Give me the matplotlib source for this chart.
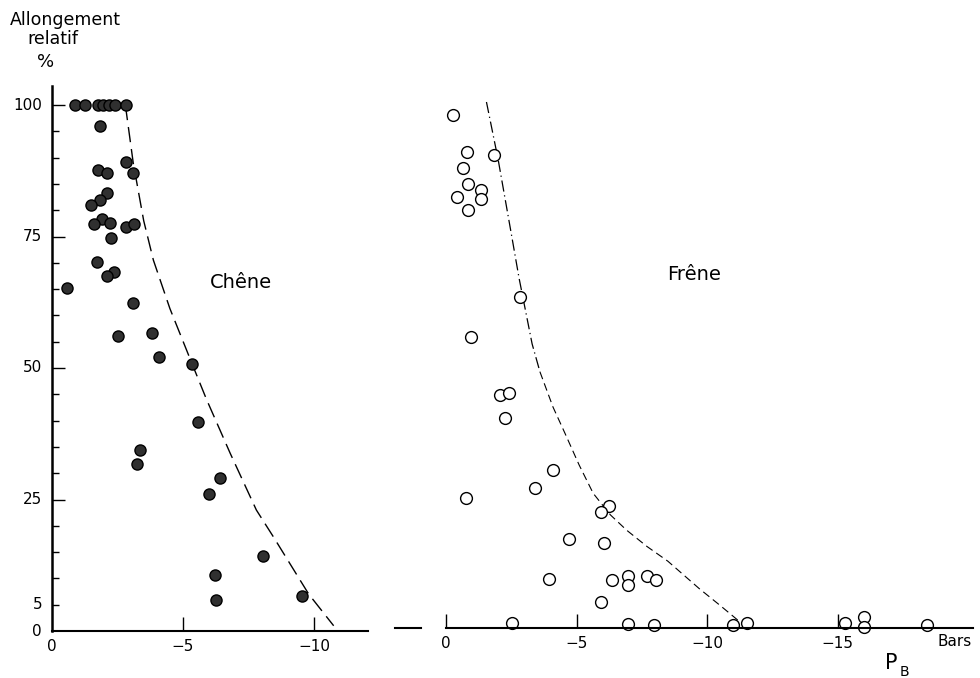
import matplotlib
matplotlib.use('Agg')
import matplotlib.pyplot as plt
from matplotlib.lines import Line2D

# Chêne (oak) - filled circles
chene_p = [-0.88, -1.26, -1.76, -1.95, -2.18, -2.4, -2.82,
           -1.83, -2.81, -1.77, -2.09, -3.10, -2.09, -1.83, -1.48,
           -1.90, -1.60, -2.21, -2.82, -3.14, -2.24, -1.71, -2.37,
           -2.09, -0.58, -3.10, -2.53, -3.83, -4.10, -5.33, -5.56,
           -3.36, -3.23, -6.41, -6.0, -8.04, -6.21, -6.26, -9.54]
chene_al = [100, 100, 100, 100, 100, 100, 100,
            96.1, 89.2, 87.6, 87.1, 87.1, 83.2, 81.9, 80.9,
            78.4, 77.3, 77.5, 76.9, 77.3, 74.8, 70.2, 68.3,
            67.4, 65.3, 62.3, 56.1, 56.7, 52.1, 50.8, 39.7,
            34.4, 31.7, 29.0, 26.0, 14.3, 10.6, 5.8, 6.7]

# Frêne (ash) - open circles
frene_p = [-0.26, -0.79, -1.84, -0.64, -0.83, -1.33, -0.43, -1.33, -0.84,
           -2.84, -0.97, -2.07, -2.43, -2.26, -4.09, -3.41, -0.77, -6.25,
           -5.95, -4.71, -6.05, -3.96, -6.36, -6.98, -6.98, -7.69, -8.03,
           -5.95, -2.52, -6.98, -7.98, -11.0, -11.52, -15.29, -16.0, -16.0,
           -18.42]
frene_al = [97.5, 90.4, 89.9, 87.5, 84.4, 83.3, 81.9, 81.6, 79.5,
            62.9, 55.4, 44.3, 44.6, 39.9, 30.0, 26.7, 24.8, 23.2,
            22.0, 16.9, 16.2, 9.3, 9.1, 9.8, 8.2, 9.8, 9.1,
            4.9, 1.0, 0.8, 0.6, 0.5, 1.0, 1.0, 2.0, 0.2,
            0.5]

# envelope curves (dashed)
chene_env_p = [-2.8, -3.1, -3.5, -3.87, -4.5, -5.33, -5.9, -6.8, -7.8, -8.45, -9.8, -10.75]
chene_env_al = [100, 89, 78, 70.5, 61.3, 51, 44, 33.8, 23, 17.9, 7, 1]
frene_env_p = [-1.55, -2.0, -2.5, -2.8, -3.3, -3.6, -4.1, -4.56, -5.1, -5.64,
               -6.3, -6.92, -7.7, -8.5, -9.7, -10.5, -11.3]
frene_env_al = [100, 89, 75, 66.5, 54, 48.7, 42, 37, 31, 25.6,
                21.5, 18.6, 15.5, 12.7, 7.5, 4.3, 1]

y_labels = [0, 5, 25, 50, 75, 100]
x_left_ticks = [0, -5, -10]
x_right_ticks = [0, -5, -10, -15]

W, H = 980, 678
plt.rcParams['font.family'] = ['DejaVu Sans']
fig = plt.figure(figsize=(9.8, 6.78), dpi=100)

px_x = 26.2
px_y = 5.26
top = 86

# left panel (pixel positions)
l_left, l_right, l_base = 52, 368, 631
ax1 = fig.add_axes([l_left / W, (H - l_base) / H, (l_right - l_left) / W, (l_base - top) / H])
ax1.set_xlim(0, -(l_right - l_left) / px_x)
ax1.set_ylim(0, (l_base - top) / px_y)

# right panel
r_left, r_right, r_base = 446, 973, 628
ax2 = fig.add_axes([r_left / W, (H - r_base) / H, (r_right - r_left) / W, (r_base - top) / H])
ax2.set_xlim(0, -(r_right - r_left) / 26.1)
ax2.set_ylim(0, (r_base - top) / px_y)

def minus_fmt(t):
    return '0' if t == 0 else '\u2212' + str(-t)

for ax in (ax1, ax2):
    ax.patch.set_alpha(0)
    ax.spines['top'].set_visible(False)
    ax.spines['right'].set_visible(False)
    ax.spines['bottom'].set_linewidth(1.5)
    ax.tick_params(axis='x', direction='in', length=10, width=1, pad=6, labelsize=11)

ax1.spines['left'].set_linewidth(1.8)
ax2.spines['left'].set_visible(False)
ax2.set_yticks([])

ax1.set_xticks(x_left_ticks)
ax1.set_xticklabels([minus_fmt(t) for t in x_left_ticks])
ax1.get_xticklines()[0].set_visible(False)
ax2.set_xticks(x_right_ticks)
ax2.set_xticklabels([minus_fmt(t) for t in x_right_ticks])

ax1.set_yticks([25, 50, 75, 100])
ax1.set_yticks(list(range(5, 101, 5)), minor=True)
ax1.yaxis.set_major_formatter(plt.NullFormatter())
ax1.tick_params(axis='y', which='major', direction='in', length=9, width=1)
ax1.tick_params(axis='y', which='minor', direction='in', length=5, width=1)

# y labels placed a few pixels left of the axis
for v in y_labels:
    fig.text(42 / W, (H - l_base + v * px_y) / H, str(v), ha='right', va='center', fontsize=11)

# envelopes
ax1.plot(chene_env_p, chene_env_al, color='black', lw=1.0, dashes=(11, 5))
ax2.plot(frene_env_p[:6], frene_env_al[:6], color='black', lw=0.9, dashes=(9, 3, 1, 3))
ax2.plot(frene_env_p[5:], frene_env_al[5:], color='black', lw=0.8, dashes=(7, 4))

# points
ax1.plot(chene_p, chene_al, 'o', ms=8, mfc='#303030', mec='black', mew=1.0, clip_on=False)
ax2.plot(frene_p, frene_al, 'o', ms=8.5, mfc='white', mec='black', mew=1.0, clip_on=False)

# short segment between panels
fig.add_artist(Line2D([395 / W, 421 / W], [1 - 628 / H, 1 - 628 / H], color='black', lw=1.5))

# texts
fig.text(241 / W, 1 - 282 / H, 'Chêne', ha='center', va='center', fontsize=14)
fig.text(694 / W, 1 - 275 / H, 'Frêne', ha='center', va='center', fontsize=14)
fig.text(65 / W, 1 - 20 / H, 'Allongement', ha='center', va='center', fontsize=12.5)
fig.text(53 / W, 1 - 39 / H, 'relatif', ha='center', va='center', fontsize=12.5)
fig.text(46 / W, 1 - 62 / H, '%', ha='center', va='center', fontsize=13)
fig.text(955 / W, 1 - 641 / H, 'Bars', ha='center', va='center', fontsize=11)
fig.text(891 / W, 1 - 663 / H, 'P', ha='center', va='center', fontsize=15)
fig.text(904 / W, 1 - 672 / H, 'B', ha='center', va='center', fontsize=10)

plt.savefig('out.png', dpi=100)
